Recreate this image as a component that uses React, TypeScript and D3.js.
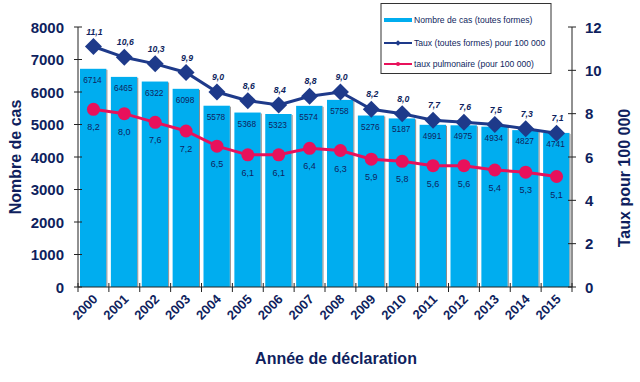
import React from "react";
import * as d3 from "d3";

const years = ["2000","2001","2002","2003","2004","2005","2006","2007","2008","2009","2010","2011","2012","2013","2014","2015"];
const cases = [6714,6465,6322,6098,5578,5368,5323,5574,5758,5276,5187,4991,4975,4934,4827,4741];
const rateAll = [11.1,10.6,10.3,9.9,9.0,8.6,8.4,8.8,9.0,8.2,8.0,7.7,7.6,7.5,7.3,7.1];
const ratePulm = [8.2,8.0,7.6,7.2,6.5,6.1,6.1,6.4,6.3,5.9,5.8,5.6,5.6,5.4,5.3,5.1];
const leftTicks = [0,1000,2000,3000,4000,5000,6000,7000,8000];
const rightTicks = [0,2,4,6,8,10,12];

const NAVY = "#0f1f5e";
const BAR = "#00adef";
const LINE1 = "#1e3a8a";
const LINE2 = "#e8115b";
const FONT = "Liberation Sans, Arial, sans-serif";

export default function App() {
  const W = 640, H = 382;
  const x0 = 78, x1 = 572, yTop = 27, yBot = 287;
  const x = d3.scaleBand().domain(years).range([x0, x1]).padding(0);
  const yL = d3.scaleLinear().domain([0, 8000]).range([yBot, yTop]);
  const yR = d3.scaleLinear().domain([0, 12]).range([yBot, yTop]);
  const bw = x.bandwidth();
  const cx = (i: number) => (x(years[i]) as number) + bw / 2;
  const fmt = (v: number) => v.toFixed(1).replace(".", ",");
  const lineAll = d3.line<number>().x((_, i) => cx(i)).y(v => yR(v));
  const linePulm = d3.line<number>().x((_, i) => cx(i)).y(v => yR(v));

  return (
    <svg width={W} height={H} style={{ position: "absolute", left: 0, top: 0, background: "#fff" }} fontFamily={FONT}>
      {/* bars */}
      {cases.map((v, i) => {
        const bx = (x(years[i]) as number) + 2;
        const w = bw - 4.5;
        return (
          <g key={"b" + i}>
            <rect x={bx} y={yL(v)} width={w} height={yBot - yL(v)} fill={BAR} />
            <line x1={bx + w + 0.5} x2={bx + w + 0.5} y1={yL(v) + 1} y2={yBot} stroke="#8c8c8c" strokeWidth={1} />
            <text x={cx(i) - 1} y={yL(v) + 14} textAnchor="middle" fontSize={8.3} fill={NAVY}>{v}</text>
          </g>
        );
      })}

      {/* left axis */}
      <line x1={x0} x2={x0} y1={yTop} y2={yBot} stroke="#222" />
      {leftTicks.map(t => (
        <g key={"l" + t}>
          <line x1={x0 - 4} x2={x0 + 4} y1={yL(t)} y2={yL(t)} stroke="#222" />
          <text x={x0 - 14} y={yL(t) + 5.5} textAnchor="end" fontSize={15} fontWeight="bold" fill={NAVY}>{t}</text>
        </g>
      ))}
      {/* right axis */}
      <line x1={x1} x2={x1} y1={yTop} y2={yBot} stroke="#222" />
      {rightTicks.map(t => (
        <g key={"r" + t}>
          <line x1={x1 - 4} x2={x1 + 4} y1={yR(t)} y2={yR(t)} stroke="#222" />
          <text x={x1 + 13} y={yR(t) + 5.5} textAnchor="start" fontSize={15} fontWeight="bold" fill={NAVY}>{t}</text>
        </g>
      ))}
      {/* x axis */}
      <line x1={x0} x2={x1} y1={yBot} y2={yBot} stroke="#222" />
      {years.concat(["end"]).map((_, i) => {
        const tx = x0 + i * bw;
        return <line key={"t" + i} x1={tx} x2={tx} y1={yBot - 4} y2={yBot + 5} stroke="#222" />;
      })}
      {years.map((yv, i) => (
        <text key={"xl" + i} transform={`translate(${cx(i) + 5},${yBot + 13}) rotate(-45)`} textAnchor="end" fontSize={13} fontWeight="bold" fill={NAVY}>{yv}</text>
      ))}

      {/* rate all line */}
      <path d={lineAll(rateAll) as string} fill="none" stroke={LINE1} strokeWidth={3} />
      {rateAll.map((v, i) => (
        <g key={"ra" + i}>
          <rect x={cx(i) - 6} y={yR(v) - 6} width={12} height={12} fill={LINE1} transform={`rotate(45 ${cx(i)} ${yR(v)})`} />
          <text x={cx(i) + 1} y={yR(v) - 12} textAnchor="middle" fontSize={8.7} fontWeight="bold" fontStyle="italic" fill={NAVY}>{fmt(v)}</text>
        </g>
      ))}

      {/* pulmonary line */}
      <path d={linePulm(ratePulm) as string} fill="none" stroke={LINE2} strokeWidth={3} />
      {ratePulm.map((v, i) => (
        <g key={"rp" + i}>
          <circle cx={cx(i)} cy={yR(v)} r={6.5} fill={LINE2} />
          <text x={cx(i)} y={yR(v) + 21} textAnchor="middle" fontSize={9} fill={NAVY}>{fmt(v)}</text>
        </g>
      ))}

      {/* legend */}
      <rect x={381} y={3.5} width={170} height={70} fill="#fff" stroke="#333" strokeWidth={1} />
      <line x1={384} x2={412} y1={20} y2={20} stroke={BAR} strokeWidth={4} />
      <text x={414} y={23} fontSize={8.6} fill={NAVY}>Nombre de cas (toutes formes)</text>
      <line x1={384} x2={412} y1={43} y2={43} stroke={LINE1} strokeWidth={2} />
      <rect x={396} y={41} width={4} height={4} fill={LINE1} transform="rotate(45 398 43)" />
      <text x={414} y={46} fontSize={8.6} fill={NAVY}>Taux (toutes formes) pour 100 000</text>
      <line x1={384} x2={412} y1={64} y2={64} stroke={LINE2} strokeWidth={2} />
      <circle cx={398} cy={64} r={2} fill={LINE2} />
      <text x={414} y={67} fontSize={8.6} fill={NAVY}>taux pulmonaire (pour 100 000)</text>

      {/* axis titles */}
      <text transform={`translate(21,157) rotate(-90)`} textAnchor="middle" fontSize={16} fontWeight="bold" fill={NAVY}>Nombre de cas</text>
      <text transform={`translate(630,178) rotate(-90)`} textAnchor="middle" fontSize={16} fontWeight="bold" fill={NAVY}>Taux pour 100 000</text>
      <text x={336} y={364} textAnchor="middle" fontSize={16} fontWeight="bold" fill={NAVY}>Année de déclaration</text>
    </svg>
  );
}
